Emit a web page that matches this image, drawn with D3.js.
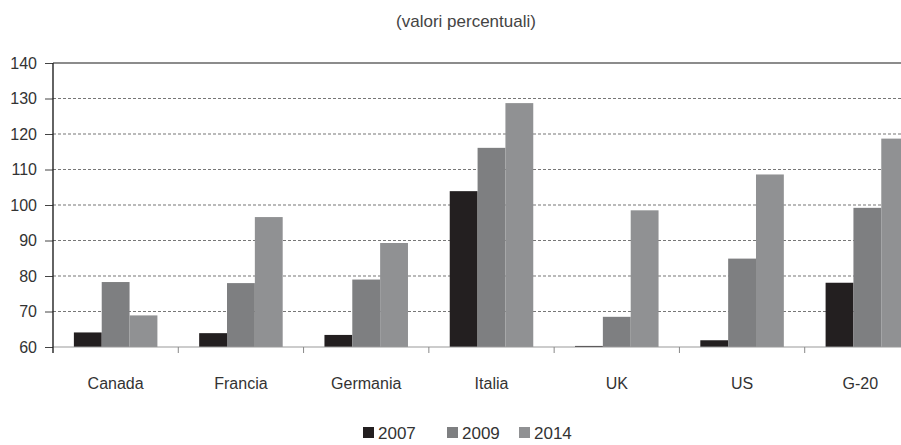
<!DOCTYPE html>
<html>
<head>
<meta charset="utf-8">
<script src="https://cdn.jsdelivr.net/npm/d3@7"></script>
<style>
  body { margin: 0; background: #fff; }
  svg { display: block; font-family: "Liberation Sans", Arial, sans-serif; }
</style>
</head>
<body>
<svg id="chart" width="901" height="445"></svg>
<script>
const countries = ["Canada", "Francia", "Germania", "Italia", "UK", "US", "G-20"];
const years = ["2007", "2009", "2014"];
const v2007 = [64.1, 63.9, 63.4, 103.9, 60.3, 61.9, 78.1];
const v2009 = [78.3, 78.0, 79.0, 116.1, 68.5, 84.9, 99.2];
const v2014 = [68.9, 96.6, 89.3, 128.7, 98.5, 108.6, 118.7];
const yTicks = [60, 70, 80, 90, 100, 110, 120, 130, 140];

const series = [v2007, v2009, v2014];
const colors = ["#231f20", "#7e7f81", "#909193"];

const svg = d3.select("#chart");
const mLeft = 53, mRight = 930, mTop = 63, mBottom = 347;

const x = d3.scaleBand().domain(countries).range([mLeft, mRight]);
const bw = x.bandwidth() / 4.5;
const y = d3.scaleLinear().domain([60, 140]).range([mBottom, mTop]);

// griglia tratteggiata
svg.append("g").selectAll("line")
  .data(yTicks.filter(t => t > 60 && t < 140))
  .enter().append("line")
  .attr("x1", mLeft).attr("x2", 901)
  .attr("y1", d => y(d)).attr("y2", d => y(d))
  .attr("stroke", "#777").attr("stroke-width", 1.2)
  .attr("stroke-dasharray", "3,2");

// bordo superiore
svg.append("line").attr("x1", mLeft).attr("x2", 901)
  .attr("y1", y(140)).attr("y2", y(140))
  .attr("stroke", "#666").attr("stroke-width", 1.3);

// barre
series.forEach((vals, i) => {
  svg.append("g").selectAll("rect")
    .data(countries)
    .enter().append("rect")
    .attr("x", d => x(d) + x.bandwidth() / 2 - 1.5 * bw + i * bw)
    .attr("y", (d, j) => y(vals[j]))
    .attr("width", bw)
    .attr("height", (d, j) => y(60) - y(vals[j]))
    .attr("fill", colors[i]);
});

// asse x
svg.append("line").attr("x1", mLeft).attr("x2", 901)
  .attr("y1", y(60)).attr("y2", y(60))
  .attr("stroke", "#999").attr("stroke-width", 1);
svg.append("g").selectAll("line")
  .data(countries.slice(1))
  .enter().append("line")
  .attr("x1", d => x(d)).attr("x2", d => x(d))
  .attr("y1", y(60)).attr("y2", y(60) + 6)
  .attr("stroke", "#888");

svg.append("g").selectAll("text")
  .data(countries)
  .enter().append("text")
  .attr("x", d => x(d) + x.bandwidth() / 2 - (d === "G-20" ? 7 : 0))
  .attr("y", 389)
  .attr("text-anchor", "middle")
  .attr("font-size", 16)
  .attr("fill", "#333")
  .text(d => d);

// asse y
const yAxis = svg.append("g")
  .attr("transform", `translate(${mLeft},0)`)
  .call(d3.axisLeft(y).tickValues(yTicks).tickSize(8).tickPadding(8));
yAxis.select(".domain").remove();
yAxis.append("line").attr("y1", mTop).attr("y2", mBottom + 6)
  .attr("stroke", "#222").attr("stroke-width", 1.4);
yAxis.selectAll(".tick line").attr("stroke", "#444");
yAxis.selectAll(".tick text")
  .attr("font-size", 16).attr("fill", "#333")
  .attr("font-family", "Liberation Sans, Arial, sans-serif");

// titolo
svg.append("text").attr("x", 466).attr("y", 27)
  .attr("text-anchor", "middle").attr("font-size", 17).attr("fill", "#444")
  .text("(valori percentuali)");

// legenda
const lx = [363, 447, 519];
const leg = svg.append("g").selectAll("g")
  .data(years)
  .enter().append("g")
  .attr("transform", (d, i) => `translate(${lx[i]},427)`);
leg.append("rect").attr("width", 11).attr("height", 11)
  .attr("fill", (d, i) => colors[i]);
leg.append("text").attr("x", 15).attr("y", 11.5)
  .attr("font-size", 17).attr("fill", "#333")
  .text(d => d);
</script>
</body>
</html>
